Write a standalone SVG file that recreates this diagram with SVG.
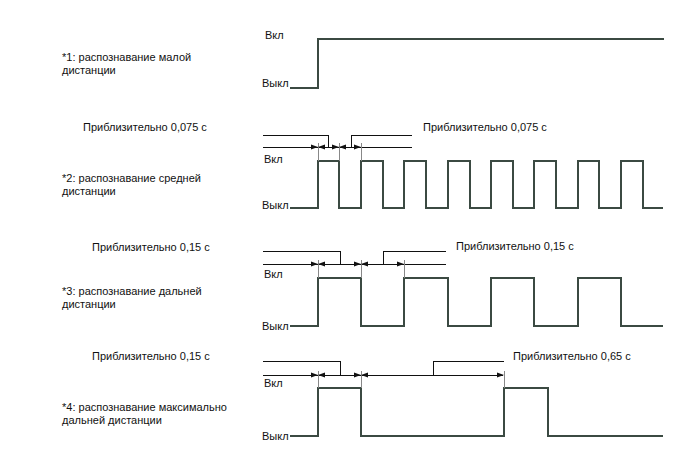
<svg xmlns="http://www.w3.org/2000/svg" xmlns:xlink="http://www.w3.org/1999/xlink" width="688" height="463" viewBox="0 0 688 463">
<style>
text{font-family:"Liberation Sans",Arial,sans-serif;font-size:11px;fill:#111}
.sig{fill:none;stroke:#3b4a42;stroke-width:2;stroke-linejoin:miter}
.dim{fill:none;stroke:#111;stroke-width:1;shape-rendering:crispEdges}
.ext{fill:none;stroke:#888;stroke-width:1;shape-rendering:crispEdges}
.ah{fill:#111}
</style>
<defs>
<path id="ar" class="ah" d="M0,0 L-7,-2.5 L-7,2.5 Z"/>
<path id="al" class="ah" d="M0,0 L7,-2.5 L7,2.5 Z"/>
</defs>
<rect width="688" height="463" fill="#fff"/>

<g id="label-1">
<text x="62" y="61">*1: распознавание малой</text>
<text x="62" y="74">дистанции</text>
</g>
<g id="signal-1">
<text x="265" y="39">Вкл</text>
<text x="262" y="87">Выкл</text>
<path class="sig" d="M290,88 H318 V39 H664"/>
</g>

<g id="label-2">
<text x="62" y="182">*2: распознавание средней</text>
<text x="62" y="195">дистанции</text>
<text x="83" y="131">Приблизительно 0,075 с</text>
<text x="423" y="131">Приблизительно 0,075 с</text>
</g>
<g id="signal-2">
<text x="264" y="163">Вкл</text>
<text x="262" y="209">Выкл</text>
<path class="sig" d="M290,208 H318 V161 H339 V208 H361 V161 H383 V208 H404 V161 H426 V208 H448 V161 H470 V208 H491 V161 H513 V208 H534 V161 H556 V208 H578 V161 H599 V208 H621 V161 H643 V208 H663"/>
</g>

<g id="label-3">
<text x="62" y="295">*3: распознавание дальней</text>
<text x="62" y="308">дистанции</text>
<text x="92" y="251">Приблизительно 0,15 с</text>
<text x="456" y="250">Приблизительно 0,15 с</text>
</g>
<g id="signal-3">
<text x="264" y="278">Вкл</text>
<text x="262" y="330">Выкл</text>
<path class="sig" d="M290,326 H318 V278 H361 V326 H404 V278 H448 V326 H491 V278 H534 V326 H578 V278 H621 V326 H663"/>
</g>

<g id="label-4">
<text x="62" y="411">*4: распознавание максимально</text>
<text x="62" y="424">дальней дистанции</text>
<text x="92" y="360">Приблизительно 0,15 с</text>
<text x="513" y="360">Приблизительно 0,65 с</text>
</g>
<g id="signal-4">
<text x="264" y="387">Вкл</text>
<text x="262" y="440">Выкл</text>
<path class="sig" d="M290,436 H318 V388 H361 V436 H504 V388 H548 V436 H663"/>
</g>

<g id="connectors">
<path class="dim" d="M263,135 H328 V147 M351,147 V135 H412 M263,147 H412"/>
<path class="ext" d="M318,143 V161 M339,143 V161 M361,143 V161"/>
<use href="#ar" x="318" y="147"/><use href="#al" x="318" y="147"/>
<use href="#ar" x="339" y="147"/><use href="#al" x="339" y="147"/>
<use href="#ar" x="361" y="147"/>
<path class="dim" d="M263,251 H340 V264 M383,264 V251 H446 M263,264 H446"/>
<path class="ext" d="M318,260 V278 M361,260 V278 M404,260 V278"/>
<use href="#ar" x="318" y="264"/><use href="#al" x="318" y="264"/>
<use href="#ar" x="361" y="264"/><use href="#al" x="361" y="264"/>
<use href="#ar" x="404" y="264"/>
<path class="dim" d="M263,361 H340 V375 M433,375 V361 H504 M263,375 H503"/>
<path class="ext" d="M318,371 V388 M361,371 V388 M504,371 V388"/>
<use href="#ar" x="318" y="375"/><use href="#al" x="318" y="375"/>
<use href="#ar" x="361" y="375"/><use href="#al" x="361" y="375"/>
<use href="#ar" x="504" y="375"/>
</g>
</svg>
